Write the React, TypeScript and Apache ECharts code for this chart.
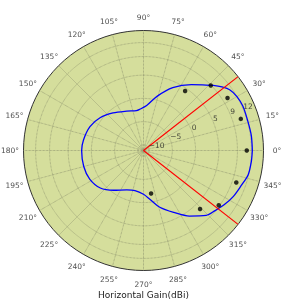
import React, { useEffect, useRef } from 'react';
import * as echarts from 'echarts';

// Antenna horizontal pattern (angle in degrees, gain in dBi)
const patternAngles = [0, 8, 16, 24, 30, 35, 39, 43, 48, 54, 65, 76, 86, 95, 100, 113, 129, 143, 156, 170, 180, 195, 208, 221, 233, 247, 258, 270, 278, 286, 296, 305, 314, 320, 326, 333, 340, 347, 354];
const patternGains = [12.2, 12.2, 12.1, 12.2, 12.0, 11.5, 10.5, 9.3, 7.8, 6.3, 3.7, 0.8, -1.5, -2.3, -2.5, -2.0, -0.8, 0.5, 1.4, 1.9, 2.1, 2.1, 1.9, 1.1, -0.5, -2.0, -2.4, -1.8, -0.5, 1.5, 3.6, 6.0, 8.2, 8.9, 9.7, 10.5, 11.1, 11.9, 12.1];

// Measured points
const measuredAngles = [0, 18, 32, 44, 55, 280, 314, 324, 341];
const measuredGains = [11.0, 10.8, 10.1, 8.9, 4.4, -1.8, 6.3, 8.8, 9.9];

// Beam edge lines
const beamEdgeAngles = [38, 322];

const radialTicks = [-10, -5, 0, 5, 9, 12];
const radialTickLabels = ['−10', '−5', '0', '5', '9', '12'];
const angleTicks = [0, 15, 30, 45, 60, 75, 90, 105, 120, 135, 150, 165, 180, 195, 210, 225, 240, 255, 270, 285, 300, 315, 330, 345];
const rMin = -11.2;
const rMax = 14.6;
const chartTitle = 'Horizontal Gain(dBi)';

const FONT = 'DejaVu Sans';

export default function App() {
  const ref = useRef<HTMLDivElement>(null);
  useEffect(() => {
    if (!ref.current) return;
    const chart = echarts.init(ref.current, null, { renderer: 'svg' });
    const curve = patternAngles.map((a, i) => [patternGains[i], a]);
    curve.push([patternGains[0], 360]);
    const series: any[] = [
      {
        type: 'line',
        coordinateSystem: 'polar',
        polarIndex: 0,
        data: curve,
        smooth: 0.3,
        showSymbol: false,
        symbol: 'none',
        lineStyle: { color: '#0000ff', width: 1.3 },
        z: 3,
      },
      ...beamEdgeAngles.map((a) => ({
        type: 'line',
        coordinateSystem: 'polar',
        polarIndex: 0,
        data: [[rMin, a], [rMax, a]],
        showSymbol: false,
        symbol: 'none',
        lineStyle: { color: '#ff0000', width: 1.2 },
        z: 4,
      })),
      {
        type: 'scatter',
        coordinateSystem: 'polar',
        polarIndex: 0,
        data: measuredAngles.map((a, i) => [measuredGains[i], a]),
        symbolSize: 4.5,
        itemStyle: { color: '#000' },
        z: 5,
      },
      {
        type: 'scatter',
        coordinateSystem: 'polar',
        polarIndex: 0,
        data: radialTicks.map((v) => [v, 22.5]),
        symbolSize: 0,
        silent: true,
        label: {
          show: true,
          position: 'right',
          distance: 0,
          offset: [0, -3],
          formatter: (p: any) => radialTickLabels[p.dataIndex],
          fontFamily: FONT,
          fontSize: 7.5,
          color: '#222',
        },
        z: 6,
      },
      {
        type: 'scatter',
        coordinateSystem: 'polar',
        polarIndex: 1,
        data: angleTicks.map((a) => [1, a]),
        symbolSize: 0,
        silent: true,
        label: {
          show: true,
          position: 'inside',
          formatter: (p: any) => angleTicks[p.dataIndex] + '°',
          fontFamily: FONT,
          fontSize: 7.5,
          color: '#222',
        },
      },
    ];
    chart.setOption({
      animation: false,
      title: {
        text: chartTitle,
        left: 'center',
        bottom: -2,
        textStyle: { fontFamily: FONT, fontSize: 9, fontWeight: 'normal', color: '#222' },
      },
      graphic: [
        { type: 'circle', z: -10, shape: { cx: 143.5, cy: 150.5, r: 120 }, style: { fill: '#d5de9c' }, silent: true },
      ],
      polar: [
        { center: [143.5, 150.5], radius: 120 },
        { center: [143.5, 150.5], radius: 133.5 },
      ],
      angleAxis: [
        {
          polarIndex: 0,
          type: 'value',
          min: 0,
          max: 360,
          interval: 15,
          startAngle: 0,
          clockwise: false,
          axisLine: { show: true, lineStyle: { color: '#333', width: 1 } },
          axisTick: { show: false },
          axisLabel: { show: false },
          splitLine: { show: true, lineStyle: { color: '#858a68', width: 0.7, type: 'dotted' } },
        },
        {
          polarIndex: 1,
          type: 'value',
          min: 0,
          max: 360,
          startAngle: 0,
          clockwise: false,
          show: false,
        },
      ],
      radiusAxis: [
        {
          polarIndex: 0,
          type: 'value',
          min: rMin,
          max: rMax,
          axisLine: { show: false },
          axisTick: { show: false, customValues: radialTicks },
          axisLabel: { show: false },
          splitLine: { show: true, lineStyle: { color: '#858a68', width: 0.7, type: 'dotted' } },
        },
        {
          polarIndex: 1,
          type: 'value',
          min: 0,
          max: 1,
          show: false,
        },
      ],
      series,
    });
    return () => chart.dispose();
  }, []);
  return <div ref={ref} style={{ position: 'fixed', left: 0, top: 0, width: 287, height: 302 }} />;
}
